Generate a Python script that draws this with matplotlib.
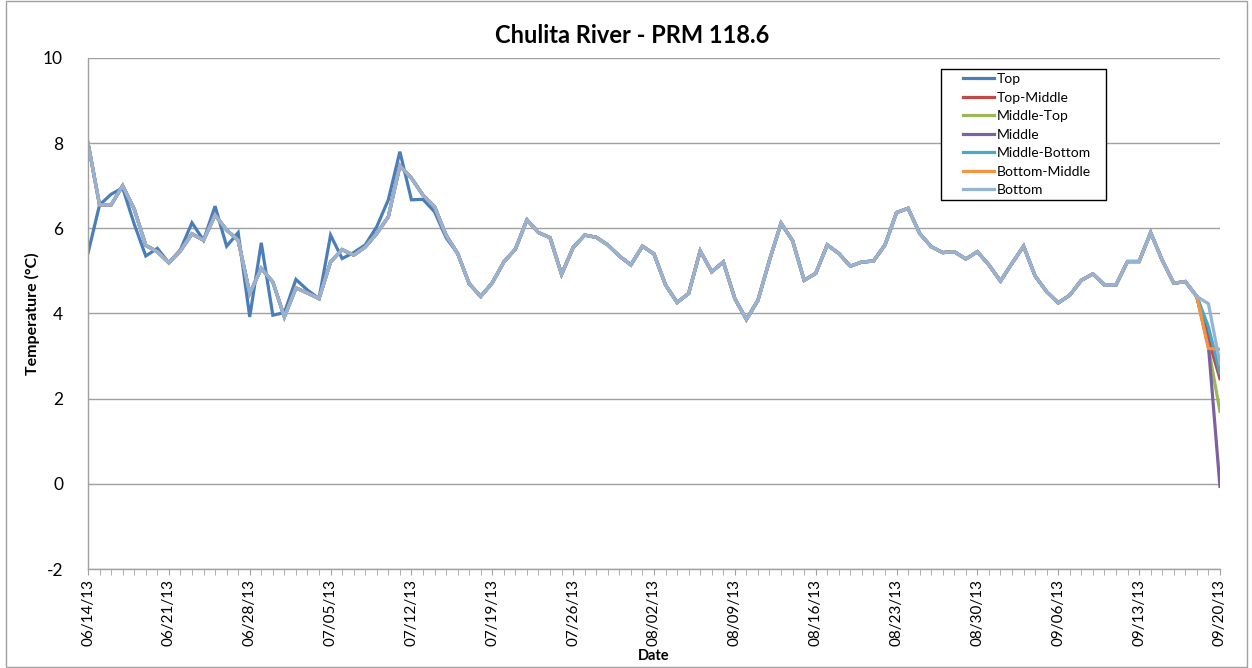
import matplotlib
matplotlib.use("Agg")
import matplotlib.pyplot as plt
import matplotlib.dates as mdates
import pandas as pd

plt.rcParams['font.family'] = ['Lato', 'DejaVu Sans']
plt.rcParams['axes.unicode_minus'] = False

dates = pd.date_range('2013-06-14', '2013-09-20', freq='D')

common_head = [8.0, 6.55, 6.55, 7.0, 6.45, 5.6, 5.45, 5.19, 5.47, 5.87,
               5.72, 6.31, 5.96, 5.72, 4.47, 5.06, 4.74, 3.92, 4.6, 4.48,
               4.35, 5.21, 5.5, 5.37, 5.56, 5.88, 6.27, 7.47, 7.18, 6.78,
               6.51, 5.84, 5.41]
common_mid = [4.7, 4.4, 4.72, 5.21, 5.51, 6.2, 5.9, 5.78, 4.92, 5.55,
              5.84, 5.79, 5.61, 5.35, 5.14, 5.58, 5.4, 4.67, 4.26, 4.47,
              5.47, 4.98, 5.21, 4.35, 3.86, 4.31, 5.25, 6.12, 5.71, 4.78,
              4.94, 5.61, 5.41, 5.11, 5.21, 5.23, 5.61, 6.37, 6.47, 5.88,
              5.57, 5.43, 5.45, 5.28, 5.45, 5.14, 4.76, 5.18, 5.58, 4.88,
              4.51, 4.25, 4.43, 4.78, 4.93, 4.67, 4.67, 5.22, 5.22, 5.9,
              5.25, 4.71, 4.75, 4.4]

top_head = [5.42, 6.55, 6.8, 6.95, 6.1, 5.35, 5.53, 5.19, 5.5, 6.13,
            5.72, 6.52, 5.58, 5.9, 3.92, 5.66, 3.96, 4.02, 4.8, 4.55,
            4.35, 5.84, 5.29, 5.43, 5.61, 6.04, 6.67, 7.8, 6.67, 6.68,
            6.39, 5.78, 5.41]

top_tail = [3.6, 2.55]
top_middle_tail = [3.4, 2.47]
middle_top_tail = [3.2, 1.7]
middle_tail = [3.25, -0.06]
middle_bottom_tail = [3.69, 2.6]
bottom_middle_tail = [3.18, 3.16]
bottom_tail = [4.23, 2.83]

series_names = ['Top', 'Top-Middle', 'Middle-Top', 'Middle', 'Middle-Bottom',
                'Bottom-Middle', 'Bottom']
series_values = [
    top_head + common_mid + top_tail,
    common_head + common_mid + top_middle_tail,
    common_head + common_mid + middle_top_tail,
    common_head + common_mid + middle_tail,
    common_head + common_mid + middle_bottom_tail,
    common_head + common_mid + bottom_middle_tail,
    common_head + common_mid + bottom_tail,
]
colors = ['#4A7EBB', '#BE4B48', '#98B954', '#7D60A0', '#46AAC5', '#F69240', '#95B3D7']

fig = plt.figure(figsize=(12.52, 6.68), dpi=100)
ax = fig.add_axes([0.0703, 0.1482, 0.9041, 0.765])

for name, vals, c in zip(series_names, series_values, colors):
    ax.plot(dates, vals, color=c, lw=2.3, label=name, solid_joinstyle='miter')

ax.set_ylim(-2, 10)
ax.set_yticks([-2, 0, 2, 4, 6, 8, 10])
ax.set_xlim(dates[0], dates[-1])
ax.set_xticks(dates[::7])
ax.xaxis.set_major_formatter(mdates.DateFormatter('%m/%d/%y'))
ax.xaxis.set_minor_locator(mdates.DayLocator())
ax.tick_params(axis='x', which='both', direction='out', length=4, color='#A0A0A0',
               labelsize=11, rotation=90, pad=3)
ax.tick_params(axis='y', which='both', length=0, labelsize=12.5, pad=18)

ax.grid(axis='y', color='#A0A0A0', lw=1.0)
ax.set_axisbelow(True)
for s in ['top', 'right']:
    ax.spines[s].set_visible(False)
for s in ['left', 'bottom']:
    ax.spines[s].set_color('#A0A0A0')
    ax.spines[s].set_linewidth(1.0)

fig.text(0.505, 0.9476, 'Chulita River - PRM 118.6', ha='center', va='center',
         fontsize=17, fontweight='bold')
ax.set_ylabel('Temperature (°C)', fontsize=11.5, fontweight='bold', labelpad=2)
ax.set_xlabel('Date', fontsize=10.5, fontweight='bold', labelpad=2)

leg = ax.legend(loc='upper left', bbox_to_anchor=(0.773, 0.9705), fontsize=10,
                frameon=False, handlelength=2.2, handletextpad=0.2,
                labelspacing=0.47, borderpad=0, borderaxespad=0)
ax.add_patch(plt.Rectangle((0.7535, 0.7221), 0.1458, 0.2564, transform=ax.transAxes,
                           fill=True, facecolor='white', edgecolor='black', lw=1.0,
                           zorder=4.9))
leg.set_zorder(5)

fig.patches.append(plt.Rectangle((0.005, 0.002), 0.991, 0.996, transform=fig.transFigure,
                                 fill=False, edgecolor='#A0A0A0', lw=1.0))

fig.savefig('out.png', dpi=100)
